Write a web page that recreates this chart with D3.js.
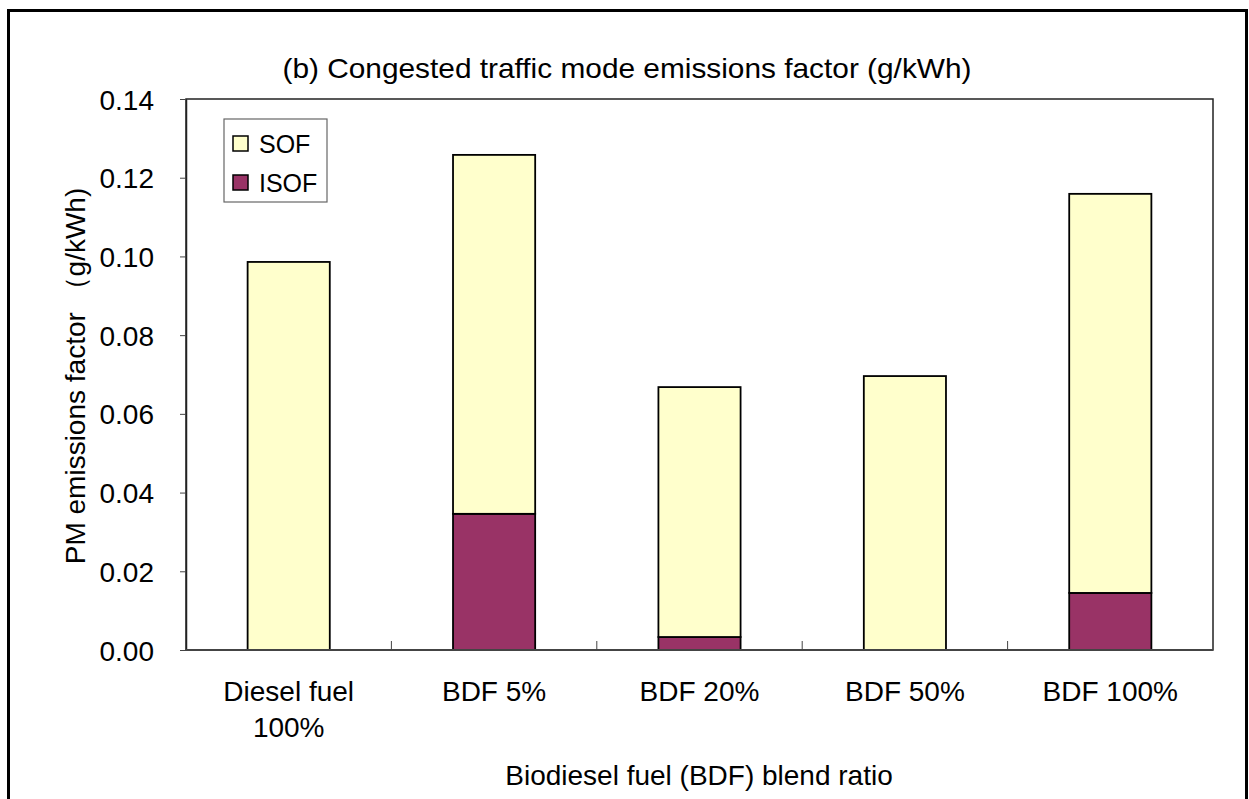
<!DOCTYPE html>
<html>
<head>
<meta charset="utf-8">
<script src="https://cdn.jsdelivr.net/npm/d3@7"></script>
<style>
  body { margin: 0; background: #fff; }
  text { font-family: "Liberation Sans", Arial, sans-serif; fill: #000; }
</style>
</head>
<body>
<svg id="chart" width="1249" height="799"></svg>
<script>
// data
var categories = ['Diesel fuel|100%', 'BDF 5%', 'BDF 20%', 'BDF 50%', 'BDF 100%'];
var isof = [0, 0.0346, 0.0033, 0, 0.0145];
var sof = [0.0986, 0.0912, 0.0635, 0.0696, 0.1014];
var yTicks = [0, 0.02, 0.04, 0.06, 0.08, 0.10, 0.12, 0.14];
var seriesNames = ['SOF', 'ISOF'];
var seriesColors = ['#FFFFCC', '#993366'];

var svg = d3.select('#chart');

// outer frame
svg.append('rect')
  .attr('x', 8.5).attr('y', 10.5)
  .attr('width', 1238).attr('height', 800)
  .attr('fill', 'none').attr('stroke', '#000').attr('stroke-width', 3);

var pL = 186, pT = 99, pR = 1213, pB = 650;

var x = d3.scaleBand().domain(d3.range(categories.length)).range([pL, pR]).paddingInner(0.6).paddingOuter(0.3);
var y = d3.scaleLinear().domain([0, 0.14]).range([pB, pT]);

// plot frame
svg.append('rect')
  .attr('x', pL).attr('y', pT)
  .attr('width', pR - pL).attr('height', pB - pT)
  .attr('fill', 'none').attr('stroke', '#222').attr('stroke-width', 1.5);

// stacked bars
var rows = categories.map(function(c, i){ return { i: i, ISOF: isof[i], SOF: sof[i] } });
var stack = d3.stack().keys(['ISOF', 'SOF'])(rows);

stack.forEach(function(layer){
  var col = layer.key == 'SOF' ? seriesColors[0] : seriesColors[1];
  svg.append('g').selectAll('rect')
    .data(layer.filter(function(d){ return d[1] - d[0] > 0 }))
    .enter().append('rect')
      .attr('x', function(d){ return x(d.data.i) })
      .attr('width', x.bandwidth())
      .attr('y', function(d){ return y(d[1]) })
      .attr('height', function(d){ return y(d[0]) - y(d[1]) })
      .attr('fill', col)
      .attr('stroke', '#000')
      .attr('stroke-width', 1.8);
});

// y axis
var yAxis = svg.append('g')
  .attr('transform', 'translate(' + pL + ',0)')
  .call(d3.axisLeft(y).tickValues(yTicks).tickFormat(d3.format('.2f')).tickSize(6).tickSizeOuter(0));
yAxis.select('.domain').attr('stroke', '#222').attr('stroke-width', 1.5);
yAxis.selectAll('.tick line').attr('stroke', '#444');
yAxis.selectAll('.tick text')
  .attr('x', -32).attr('dy', '0.36em')
  .style('font-size', '28px');

// x axis: ticks between categories, pointing inward
var bounds = d3.range(1, categories.length).map(function(i){ return pL + i * (pR - pL) / categories.length });
var xAxis = svg.append('g');
xAxis.append('line')
  .attr('x1', pL).attr('x2', pR).attr('y1', pB).attr('y2', pB)
  .attr('stroke', '#444').attr('stroke-width', 1.8);
xAxis.selectAll('.b').data(bounds).enter().append('line')
  .attr('x1', function(d){ return d }).attr('x2', function(d){ return d })
  .attr('y1', pB).attr('y2', pB - 9)
  .attr('stroke', '#444');

var labels = svg.append('g').selectAll('text')
  .data(categories)
  .enter().append('text')
    .attr('text-anchor', 'middle')
    .attr('x', function(d, i){ return x(i) + x.bandwidth() / 2 })
    .attr('y', 701)
    .style('font-size', '28px');
labels.each(function(d){
  var t = d3.select(this);
  d.split('|').forEach(function(part, k){
    t.append('tspan')
      .attr('x', t.attr('x'))
      .attr('dy', k == 0 ? 0 : 36)
      .text(part);
  });
});

// titles
svg.append('text')
  .attr('x', 627).attr('y', 78)
  .attr('text-anchor', 'middle')
  .attr('textLength', 689).attr('lengthAdjust', 'spacingAndGlyphs')
  .style('font-size', '28px')
  .text('(b) Congested traffic mode emissions factor (g/kWh)');

svg.append('text')
  .attr('x', 699).attr('y', 785)
  .attr('text-anchor', 'middle')
  .style('font-size', '28px')
  .text('Biodiesel fuel (BDF) blend ratio');

svg.append('text')
  .attr('transform', 'translate(85,376) rotate(-90)')
  .attr('text-anchor', 'middle')
  .style('font-size', '28px')
  .text('PM emissions factor （g/kWh)');

// legend
var legend = svg.append('g').attr('transform', 'translate(224,119)');
legend.append('rect')
  .attr('width', 103).attr('height', 83)
  .attr('fill', '#fff').attr('stroke', '#666').attr('stroke-width', 1.2);
var items = legend.selectAll('.item').data(seriesNames).enter().append('g')
  .attr('transform', function(d, i){ return 'translate(9,' + (17 + i * 39) + ')' });
items.append('rect')
  .attr('width', 15).attr('height', 15)
  .attr('fill', function(d, i){ return seriesColors[i] })
  .attr('stroke', '#000').attr('stroke-width', 1.5);
items.append('text')
  .attr('x', 26).attr('y', 7.5).attr('dy', '0.36em')
  .style('font-size', '25px')
  .text(function(d){ return d });
</script>
</body>
</html>
